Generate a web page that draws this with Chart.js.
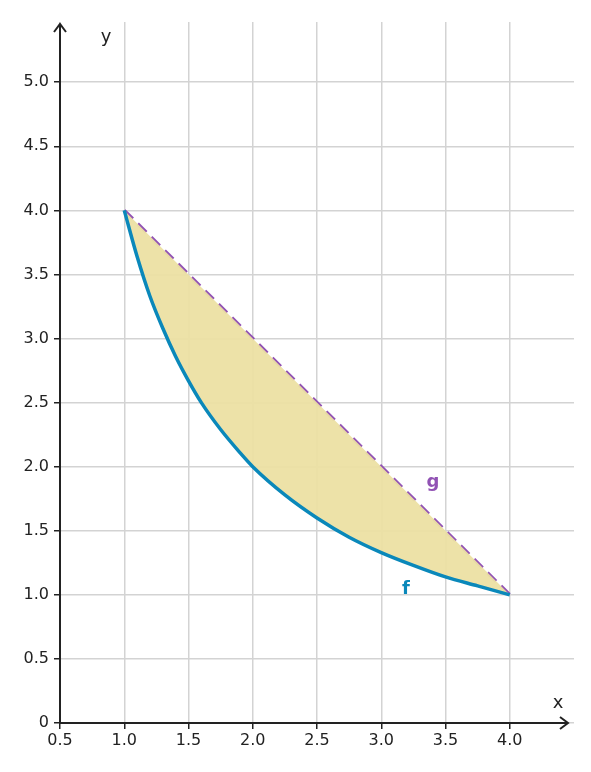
<!DOCTYPE html>
<html><head><meta charset="utf-8">
<script src="https://cdn.jsdelivr.net/npm/chart.js@4"></script>
<style>html,body{margin:0;padding:0;background:#fff}#w{width:591px;height:772px}</style>
</head><body><div id="w"><canvas id="c"></canvas></div>
<script>
const fX = [1,1.1,1.2,1.3,1.4,1.5,1.6,1.75,1.9,2,2.25,2.5,2.75,3,3.25,3.5,3.75,4];
const fY = [4,3.64,3.33,3.08,2.86,2.67,2.5,2.29,2.11,2,1.78,1.6,1.45,1.33,1.23,1.14,1.07,1];
const gX = [1,4];
const gY = [4,1];
const xTicks = [0.5,1,1.5,2,2.5,3,3.5,4];
const yTicks = [0,0.5,1,1.5,2,2.5,3,3.5,4,4.5,5];
const font = {family:'DejaVu Sans', size:16};

const axesPlugin = {
  id:'axes',
  afterDraw(ch){
    const c=ch.ctx, a=ch.chartArea;
    const x0=ch.scales.x.getPixelForValue(0.5), y0=ch.scales.y.getPixelForValue(0);
    c.save(); c.strokeStyle='#222'; c.fillStyle='#222'; c.lineWidth=2;
    c.beginPath(); c.moveTo(x0,y0); c.lineTo(a.right-6,y0); c.moveTo(x0,y0); c.lineTo(x0,a.top+2); c.stroke();
    c.beginPath(); c.moveTo(a.right-14,y0-6); c.lineTo(a.right-6,y0); c.lineTo(a.right-14,y0+6); c.stroke();
    c.beginPath(); c.moveTo(x0-6,a.top+10); c.lineTo(x0,a.top+2); c.lineTo(x0+6,a.top+10); c.stroke();
    c.font='18px DejaVu Sans'; c.textAlign='center'; c.textBaseline='middle';
    c.fillText('y',106,37); c.fillText('x',558,703);
    c.font='bold 18px DejaVu Sans';
    c.fillStyle='#9152b4'; c.fillText('g',433,482);
    c.fillStyle='#0a88ba'; c.fillText('f',406,589);
    c.restore();
  }
};

new Chart(document.getElementById('c'),{
  type:'line',
  data:{datasets:[
    {data:fX.map((x,i)=>({x,y:fY[i]})),borderColor:'#0a88ba',borderWidth:3.5,pointRadius:0,cubicInterpolationMode:'monotone',fill:{target:1},backgroundColor:'rgba(236,224,163,0.95)'},
    {data:gX.map((x,i)=>({x,y:gY[i]})),borderColor:'#9152b4',borderWidth:3.5,borderDash:[12,7],pointRadius:0,fill:false}
  ]},
  plugins:[axesPlugin],
  options:{
    responsive:true,maintainAspectRatio:false,animation:false,
    layout:{padding:{top:22,right:17,left:0,bottom:0}},
    plugins:{legend:{display:false},tooltip:{enabled:false}},
    scales:{
      x:{type:'linear',min:0.5,max:4.5,
        afterBuildTicks:s=>{s.ticks=xTicks.map(v=>({value:v}));},
        afterFit:s=>{s.height=49;},
        border:{display:false},
        grid:{color:'#d3d3d3',lineWidth:1.5,tickLength:6,tickColor:'#222'},
        ticks:{font,color:'#222',padding:2,maxRotation:0}},
      y:{type:'linear',min:0,max:5.47,
        afterBuildTicks:s=>{s.ticks=yTicks.map(v=>({value:v}));},
        afterFit:s=>{s.width=60;},
        border:{display:false},
        grid:{color:'#d3d3d3',lineWidth:1.5,tickLength:6,tickColor:'#222'},
        ticks:{font,color:'#222',padding:5}}
    }
  }
});
</script></body></html>
